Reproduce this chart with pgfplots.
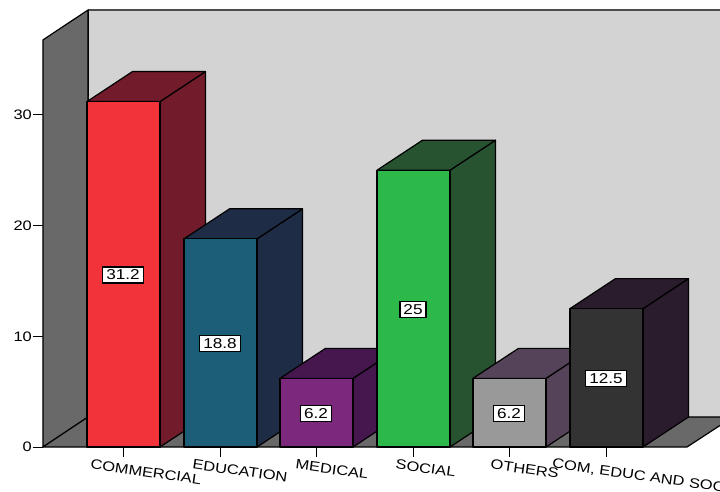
\documentclass[border=0pt]{standalone}
\usepackage{fontspec}
\usepackage{pgfplots}
\pgfplotsset{compat=1.18}
\usepackage{pgfplotstable}
\setmainfont[FakeStretch=1.2]{Liberation Sans}

\definecolor{wallside}{HTML}{696969}
\definecolor{wallback}{HTML}{D3D3D3}
\definecolor{redF}{HTML}{F3333A}
\definecolor{redS}{HTML}{711B2B}
\definecolor{tealF}{HTML}{1C5E78}
\definecolor{tealS}{HTML}{1F2C46}
\definecolor{purpF}{HTML}{7B287D}
\definecolor{purpS}{HTML}{46164F}
\definecolor{greenF}{HTML}{2DB94A}
\definecolor{greenS}{HTML}{275330}
\definecolor{grayF}{HTML}{999999}
\definecolor{grayS}{HTML}{55435A}
\definecolor{darkF}{HTML}{333333}
\definecolor{darkS}{HTML}{2A1B2D}

\pgfplotstableread{
pos val
123 31.2
220 18.8
316 6.2
413 25
509 6.2
606 12.5
}\percentages

% One block: left edge, value, front colour, side colour.
\newcommand{\blockbar}[4]{%
  \pgfmathsetmacro{\R}{#1+73}%
  \pgfmathsetmacro{\LD}{#1+45.5}%
  \pgfmathsetmacro{\RD}{#1+118.5}%
  \pgfmathsetmacro{\VD}{#2+2.71}%
  \addplot[fill=#4,draw=black,line width=1.2pt,line join=round] coordinates {(\R,0) (\RD,2.71) (\RD,\VD) (\R,#2)} --cycle;
  \addplot[fill=#4,draw=black,line width=1.2pt,line join=round] coordinates {(#1,#2) (\LD,\VD) (\RD,\VD) (\R,#2)} --cycle;
  \addplot[fill=#3,draw=black,line width=1.2pt,line join=round] coordinates {(#1,0) (\R,0) (\R,#2) (#1,#2)} --cycle;
}
% Slanted category label, slid along its baseline by #1 and dropped by #2.
\newcommand{\lab}[3]{\smash{\makebox[0pt][l]{\hspace*{#1pt}\raisebox{#2pt}{#3}}}}

\begin{document}
\begin{tikzpicture}[x=1pt,y=1pt]
\useasboundingbox (0,0) rectangle (720,491);
\clip (0,0) rectangle (720,491);
\begin{axis}[
  at={(43pt,44pt)}, anchor=south west,
  scale only axis, width=677pt, height=437pt,
  xmin=43, xmax=720, ymin=0, ymax=39.47,
  clip=false,
  axis x line*=bottom, axis y line*=left,
  axis line style={draw=none},
  tick align=outside,
  major tick length=10pt,
  tick style={black,line width=1pt},
  xtick={123,220,316,413,509,606},
  xticklabels={
    {\lab{-31}{-4.3}{COMMERCIAL}},
    {\lab{-26}{-3.6}{EDUCATION}},
    {\lab{-19}{-2.7}{MEDICAL}},
    {\lab{-16}{-2.2}{SOCIAL}},
    {\lab{-17}{-2.4}{OTHERS}},
    {\lab{-52}{-6.3}{COM, EDUC AND SOC}}},
  xticklabel style={rotate=-8,anchor=base,inner sep=0pt,yshift=-12pt,
    font=\fontsize{13.7}{14}\selectfont},
  ytick={0,10,20,30},
  yticklabel style={font=\fontsize{13.7}{14}\selectfont,inner sep=1pt},
  /pgf/number format/assume math mode=true,
]
% Walls and floor of the box
\addplot[fill=wallback,draw=black,line width=0.8pt] coordinates {(88,39.47) (780,39.47) (780,2.71) (88,2.71)} --cycle;
\addplot[draw=black!70,line width=1.5pt] coordinates {(88,39.47) (780,39.47)};
\addplot[fill=wallside,draw=black,line width=1.2pt] coordinates {(43,0) (43,36.77) (88,39.47) (88,2.71)} --cycle;
\addplot[fill=wallside,draw=black,line width=1.2pt] coordinates {(43,0) (687,0) (733,2.71) (88,2.71)} --cycle;

% Blocks, from the left
\blockbar{87}{31.2}{redF}{redS}
\blockbar{184}{18.8}{tealF}{tealS}
\blockbar{280}{6.2}{purpF}{purpS}
\blockbar{377}{25}{greenF}{greenS}
\blockbar{473}{6.2}{grayF}{grayS}
\blockbar{570}{12.5}{darkF}{darkS}

% Boxed values at half height of each block
\addplot[draw=none,point meta=explicit symbolic,nodes near coords,
  every node near coord/.style={anchor=center,fill=white,draw=black,line width=1.2pt,
    inner xsep=3.5pt,inner ysep=3pt,yshift=-0.7pt,font=\fontsize{14.3}{14}\selectfont}]
  table[x=pos,y expr=\thisrow{val}/2,meta=val] {\percentages};
\end{axis}
\end{tikzpicture}
\end{document}
